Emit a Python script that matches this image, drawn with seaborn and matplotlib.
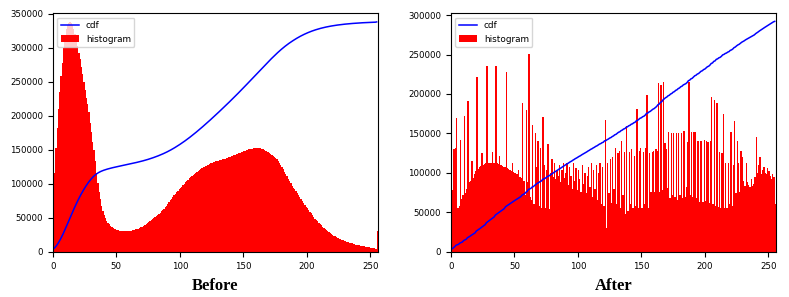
"""
Histogram equalization: grey-level histogram + normalised cdf, before / after
"""

import numpy as np
import matplotlib
matplotlib.use("Agg")
import matplotlib.pyplot as plt
import seaborn as sns

# ─────────────────────────────────────────
# DATA
# ─────────────────────────────────────────
levels = np.arange(256)

before_hist = np.array([
    283000, 116000, 152000, 182000, 210000, 235000, 258000, 278000, 300000, 318000,
    328000, 334000, 337000, 338000, 337000, 334000, 328000, 320000, 312000, 303000,
    293000, 283000, 272000, 262000, 250000, 238000, 226000, 218000, 205000, 190000,
    176000, 162000, 150000, 133000, 116000, 101000, 88000, 77000, 67000, 60000,
    54000, 50000, 46000, 43000, 40500, 38500, 36500, 35000, 34000, 33000,
    32300, 31700, 31200, 30800, 30500, 30300, 30200, 30200, 30300, 30500,
    30800, 31200, 31600, 32000, 32500, 33000, 33600, 34300, 35000, 36000,
    37000, 38000, 39200, 40500, 42000, 43500, 45000, 46500, 48000, 49500,
    51000, 52500, 54000, 55800, 57500, 59500, 61500, 63500, 65800, 68000,
    70500, 73000, 75500, 78000, 80500, 83000, 85500, 88000, 90000, 92000,
    94000, 96000, 98000, 100000, 102000, 104000, 106000, 108000, 110000, 112000,
    113500, 115000, 116500, 118000, 119500, 121000, 122000, 123000, 124000, 125000,
    126000, 127000, 128000, 129000, 130000, 130800, 131500, 132200, 133000, 133600,
    134200, 134800, 135400, 136000, 136600, 137200, 137800, 138400, 139000, 139700,
    140400, 141100, 141800, 142500, 143200, 144000, 144800, 145600, 146400, 147200,
    148000, 148700, 149400, 150000, 150500, 151000, 151400, 151800, 152100, 152400,
    152600, 152700, 152600, 152400, 151800, 150500, 149800, 148900, 148000, 146800,
    145000, 144000, 143000, 141500, 140000, 138500, 136500, 134000, 131000, 128000,
    125000, 121500, 118000, 114500, 111000, 107500, 104000, 100500, 97000, 94000,
    92500, 90000, 87000, 84000, 81000, 78000, 75000, 72000, 69000, 66500,
    64000, 61500, 59000, 56500, 54000, 51500, 49000, 47000, 45000, 43000,
    41000, 39000, 37000, 35200, 33500, 32000, 30500, 28500, 27600, 26300,
    25000, 23800, 22600, 21500, 20500, 19500, 18600, 17800, 17000, 16200,
    15500, 14800, 14100, 13500, 12900, 12300, 11800, 11300, 10800, 10400,
    10000, 9600, 9200, 8800, 8400, 8000, 7700, 7400, 7100, 6800,
    6400, 6000, 5500, 5000, 4500, 31000,
])

after_hist = np.array([
    292000, 78000, 130000, 131000, 170000, 56000, 58000, 142000, 67000, 72000,
    172000, 75000, 80000, 191000, 88000, 90000, 115000, 94000, 98000, 102000,
    221000, 105000, 107000, 109000, 125000, 110000, 111000, 112000, 236000, 112000,
    113000, 113000, 126000, 113000, 112000, 235000, 112000, 111000, 122000, 110000,
    109000, 108000, 107000, 228000, 106000, 105000, 104000, 103000, 112000, 101000,
    100000, 99000, 98000, 104000, 95000, 93000, 189000, 90000, 72000, 180000,
    89000, 251000, 70000, 66000, 161000, 60000, 150000, 108000, 140000, 58000,
    131000, 56000, 171000, 110000, 55000, 104000, 137000, 54000, 100000, 117000,
    95000, 112000, 92000, 103000, 96000, 110000, 88000, 104000, 112000, 93000,
    100000, 112000, 85000, 108000, 96000, 80000, 112000, 90000, 106000, 78000,
    104000, 92000, 76000, 110000, 86000, 100000, 74000, 96000, 108000, 82000,
    112000, 70000, 104000, 80000, 110000, 66000, 100000, 112000, 60000, 108000,
    58000, 167000, 30000, 112000, 75000, 118000, 62000, 120000, 80000, 131000,
    60000, 125000, 128000, 55000, 141000, 72000, 126000, 48000, 160000, 52000,
    127000, 60000, 130000, 55000, 122000, 58000, 181000, 56000, 128000, 131000,
    55000, 127000, 60000, 132000, 199000, 56000, 125000, 76000, 126000, 128000,
    76000, 130000, 128000, 214000, 76000, 212000, 78000, 215000, 138000, 130000,
    81000, 152000, 68000, 150000, 72000, 150000, 70000, 151000, 66000, 150000,
    72000, 151000, 68000, 153000, 70000, 82000, 139000, 215000, 72000, 152000,
    70000, 152000, 152000, 68000, 140000, 63000, 141000, 140000, 63000, 142000,
    64000, 140000, 139000, 62000, 140000, 196000, 60000, 192000, 58000, 188000,
    57000, 126000, 56000, 125000, 175000, 55000, 113000, 56000, 112000, 60000,
    152000, 58000, 110000, 166000, 75000, 140000, 112000, 76000, 128000, 120000,
    90000, 84000, 113000, 88000, 85000, 82000, 92000, 83000, 86000, 95000,
    145000, 100000, 110000, 120000, 98000, 104000, 108000, 100000, 98000, 106000,
    102000, 96000, 92000, 98000, 95000, 61000,
])

panels = [("Before", before_hist, 351000), ("After", after_hist, 302500)]

# ─────────────────────────────────────────
# PLOT
# ─────────────────────────────────────────
fig, axes = plt.subplots(1, 2, figsize=(7.89, 2.97), dpi=100)
fig.subplots_adjust(left=0.067, right=0.9835, bottom=0.152, top=0.956, wspace=0.2246)

for ax, (title, hist, ytop) in zip(axes, panels):
    # cdf scaled to the histogram's peak, as in the usual equalization demo
    cdf = hist.cumsum()
    cdf_normalized = cdf * hist.max() / cdf.max()

    sns.histplot(x=levels, weights=hist, bins=256, binrange=(0, 256),
                 color='red', alpha=1, linewidth=0, ax=ax)
    sns.lineplot(x=levels, y=cdf_normalized, color='b', linewidth=1.1, ax=ax)

    ax.set_xlim(0, 256)
    ax.set_ylim(0, ytop)
    ax.set_ylabel('')
    ax.set_xlabel(title, fontsize=12, fontweight='bold',
                  family='Liberation Serif', labelpad=5)
    ax.tick_params(labelsize=6.2)

    ax.legend([ax.get_lines()[0], ax.patches[0]], ['cdf', 'histogram'],
              loc='upper left', fontsize=6.4)

plt.savefig('out.png', dpi=100)
plt.close()
